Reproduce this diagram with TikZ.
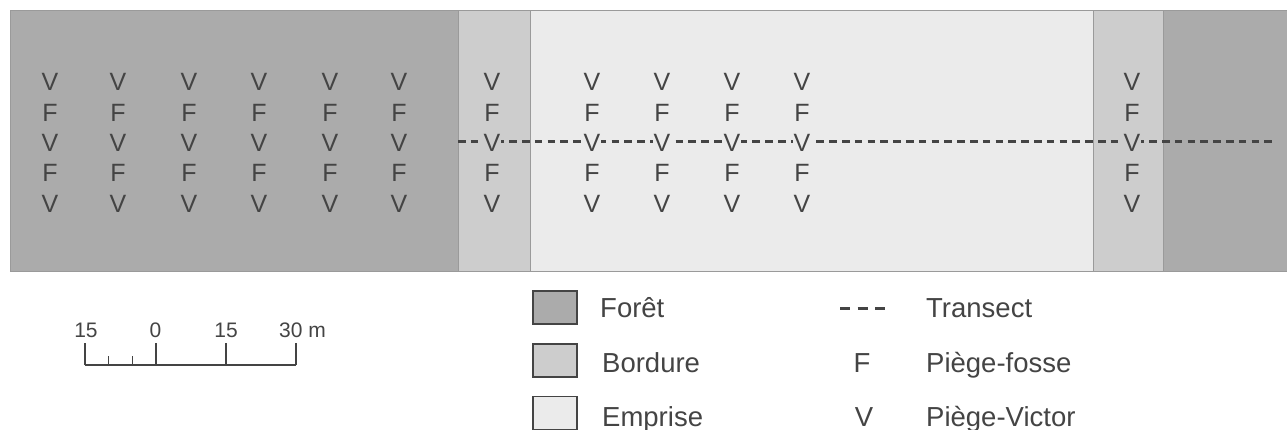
\documentclass[tikz,border=0pt]{standalone}
\usepackage{fontspec}
\setmainfont{Liberation Sans}
\definecolor{foret}{HTML}{ABABAB}
\definecolor{bord}{HTML}{CDCDCD}
\definecolor{empr}{HTML}{EBEBEB}
\definecolor{ink}{HTML}{444444}
\definecolor{edge}{HTML}{9A9A9A}
\begin{document}
\begin{tikzpicture}[x=1pt,y=-1pt,
  trap/.style={text=ink, font=\fontsize{25}{30}\selectfont, inner sep=0.5pt},
  legtext/.style={text=ink, font=\fontsize{27.5}{33}\selectfont, inner sep=0pt, anchor=base west},
  scaletext/.style={text=ink, font=\fontsize{21}{25}\selectfont, inner sep=0pt, anchor=base},
  legbox/.style={draw=ink, line width=1.5pt, minimum width=44pt, minimum height=33pt, inner sep=0pt},
  transect/.style={draw=ink, line width=3pt, dash pattern=on 7.5pt off 5.3pt},
  scalebar/.style={draw=ink, line width=1.5pt},
  zoneedge/.style={draw=edge, line width=0.8pt}]
\useasboundingbox (0,0) rectangle (1287,430);

% land-use zones along the transect
\fill[foret] (10,10.5) rectangle (458,271);
\fill[bord]  (458,10.5) rectangle (530,271);
\fill[empr]  (530,10.5) rectangle (1093,271);
\fill[bord]  (1093,10.5) rectangle (1163,271);
\fill[foret] (1163,10.5) rectangle (1287,271);
\foreach \x in {458,530,1093,1163}
  \draw[zoneedge] (\x,10.5) -- (\x,271);
\draw[zoneedge] (1287,10.5) -- (10,10.5) -- (10,271) -- (1287,271);

% transect line
\coordinate (tstart) at (458,142);
\coordinate (tend) at (1274,142);
\draw[transect] (tstart) -- (tend);

% trap grids
\foreach \x [count=\i] in {50,118,189,259,330,399}
  \foreach \l/\y [count=\j] in {V/82,F/112.5,V/143,F/173,V/203.5}
    \node[trap, fill=foret] (fo-\i-\j) at (\x,\y) {\l};
\foreach \x [count=\i] in {492,1132}
  \foreach \l/\y [count=\j] in {V/82,F/112.5,V/143,F/173,V/203.5}
    \node[trap, fill=bord] (bo-\i-\j) at (\x,\y) {\l};
\foreach \x [count=\i] in {592,662,732,802}
  \foreach \l/\y [count=\j] in {V/82,F/112.5,V/143,F/173,V/203.5}
    \node[trap, fill=empr] (em-\i-\j) at (\x,\y) {\l};

% scale bar
\coordinate (s15l) at (85,365);
\coordinate (s0) at (156,365);
\coordinate (s15) at (226,365);
\coordinate (s30) at (296,365);
\coordinate (sa) at (108.5,365);
\coordinate (sb) at (132.5,365);
\draw[scalebar] (s15l) -- (s30);
\foreach \c in {s15l,s0,s15,s30}
  \draw[scalebar] (\c) -- ++(0,-22);
\foreach \c in {sa,sb}
  \draw[scalebar] (\c) -- ++(0,-9);
\node[scaletext] (l15l) at (86,337) {15};
\node[scaletext] (l0) at (155.5,337) {0};
\node[scaletext] (l15) at (226,337) {15};
\node[scaletext, anchor=base west] (l30) at (279,337) {30 m};

% legend: zones
\node[legbox, fill=foret] (kf) at (555,307.5) {};
\node[legbox, fill=bord]  (kb) at (555,360.5) {};
\node[legbox, fill=empr]  (ke) at (555,413) {};
\node[legtext] (tf) at (600,317) {Forêt};
\node[legtext] (tb) at (602,372) {Bordure};
\node[legtext] (te) at (602,426) {Emprise};

% legend: symbols
\coordinate (kd1) at (840,308);
\coordinate (kd2) at (886,308);
\draw[transect, dash pattern=on 10pt off 7.5pt] (kd1) -- (kd2);
\node[legtext, anchor=base] (kF) at (862,372) {F};
\node[legtext, anchor=base] (kV) at (864,426) {V};
\node[legtext] (tt) at (926,317) {Transect};
\node[legtext] (tpf) at (926,372) {Piège-fosse};
\node[legtext] (tpv) at (926,426) {Piège-Victor};
\end{tikzpicture}
\end{document}
